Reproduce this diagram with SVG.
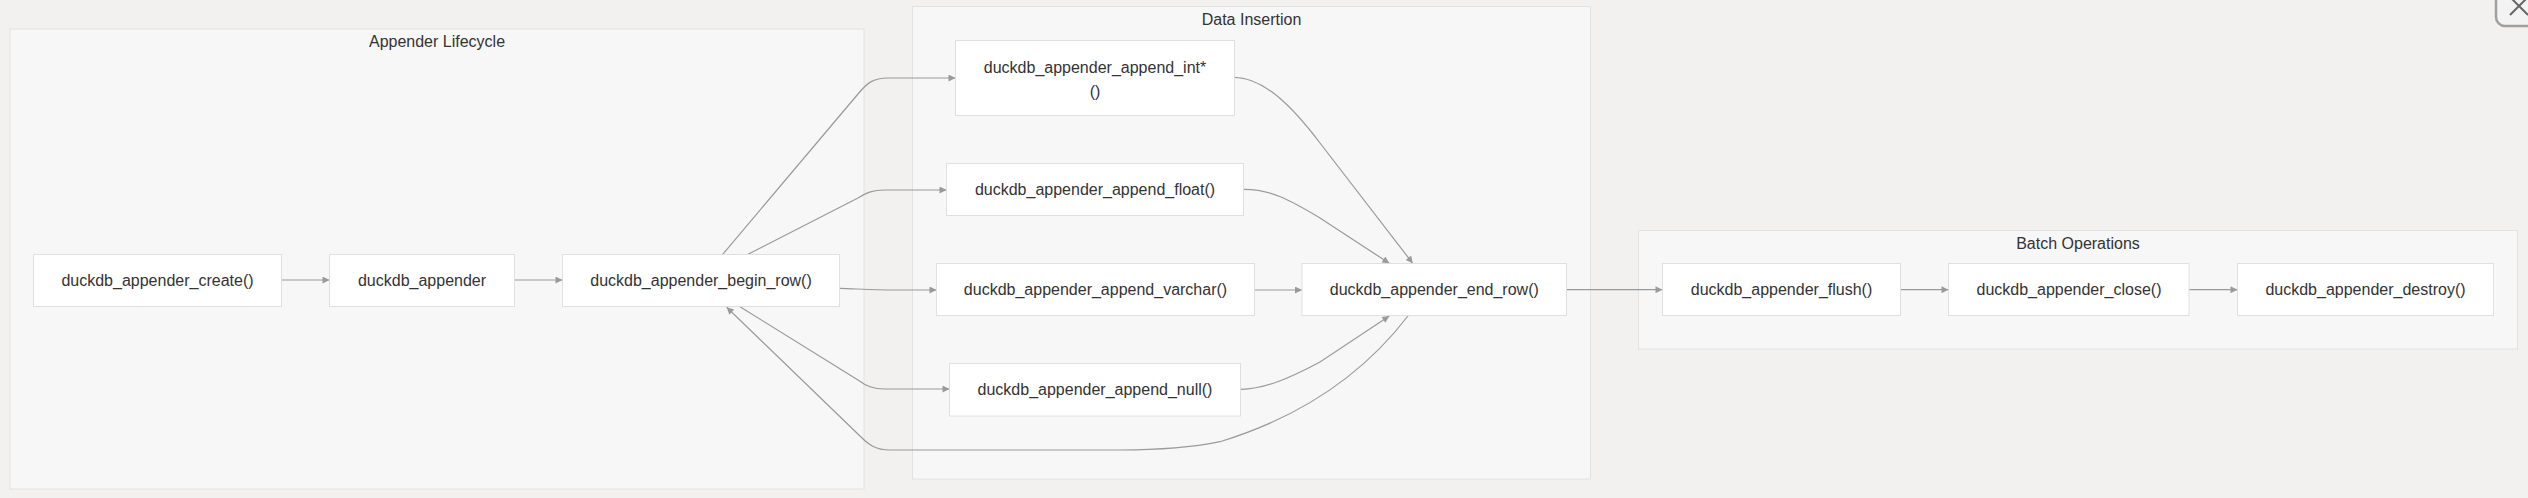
<svg xmlns="http://www.w3.org/2000/svg" width="2528" height="498" viewBox="0 0 2528 498">
<defs>
<style>
.bg{fill:#f2f1f0}
.cluster rect{fill:#f7f7f7;stroke:#e2e2e2;stroke-width:1}
.ctitle{font-family:"Liberation Sans",Arial,sans-serif;font-size:16px;fill:#333;text-anchor:middle}
.node rect{fill:#ffffff;stroke:#e0e0e0;stroke-width:1}
.node text{font-family:"Liberation Sans",Arial,sans-serif;font-size:16px;fill:#333;text-anchor:middle}
.edges path{fill:none;stroke:#9a9a9a;stroke-width:1.2;marker-end:url(#arr)}
</style>
<marker id="arr" viewBox="0 0 10 10" refX="10" refY="5" markerWidth="8" markerHeight="7" markerUnits="userSpaceOnUse" orient="auto">
<path d="M0,0 L10,5 L0,10 z" fill="#9a9a9a"/>
</marker>
</defs>
<rect class="bg" x="0" y="0" width="2528" height="498"/>

<g id="cluster-lifecycle" class="cluster">
<rect x="10" y="29" width="854" height="460"/>
<text class="ctitle" x="437" y="46.5">Appender Lifecycle</text>
</g>
<g id="cluster-insertion" class="cluster">
<rect x="912.5" y="6.5" width="678" height="472.5"/>
<text class="ctitle" x="1251.5" y="24.5">Data Insertion</text>
</g>
<g id="cluster-batch" class="cluster">
<rect x="1638.5" y="230.5" width="879" height="118.5"/>
<text class="ctitle" x="2078" y="248.5">Batch Operations</text>
</g>

<g id="edges" class="edges">
<path d="M281.5,280 L329.5,280"/>
<path d="M514.5,280 L562.5,280"/>
<path d="M722.7,254.3 L858,94 C867,83 873,78 888,78 L955.5,78"/>
<path d="M748,254.3 L858,198 C866,193 872,190 885,190 L946.5,190"/>
<path d="M839.6,288.3 C860,289 875,290 895,290 L936.5,290"/>
<path d="M740,306.7 L858,380 C866,386 873,389 885,389 L949.5,389"/>
<path d="M1408.3,315.5 Q1340,405 1220,441.7 Q1180,450 1120,450 L890,450 C876,450 869,445 861,437 L726.7,307.3"/>
<path d="M1234,77.3 C1265,77.3 1295,110 1320,143 L1412.7,263.3"/>
<path d="M1243.3,189.3 C1270,189 1290,200 1320,218 L1389.3,263.3"/>
<path d="M1254.3,290 L1302,290"/>
<path d="M1240.7,389.3 C1265,389 1290,378 1320,362 L1389.3,316"/>
<path d="M1566.4,289.7 L1662.5,289.7"/>
<path d="M1900.8,289.7 L1948.5,289.7"/>
<path d="M2189.2,289.7 L2237.5,289.7"/>
</g>

<g id="node-create" class="node">
<rect x="33.5" y="254.5" width="248" height="52"/>
<text x="157.5" y="286">duckdb_appender_create()</text>
</g>
<g id="node-appender" class="node">
<rect x="329.5" y="254.5" width="185" height="52"/>
<text x="422" y="286">duckdb_appender</text>
</g>
<g id="node-begin-row" class="node">
<rect x="562.5" y="254.5" width="277" height="52"/>
<text x="701" y="286">duckdb_appender_begin_row()</text>
</g>
<g id="node-append-int" class="node">
<rect x="955.5" y="40.5" width="279" height="75"/>
<text x="1095" y="73">duckdb_appender_append_int*</text>
<text x="1095" y="97">()</text>
</g>
<g id="node-append-float" class="node">
<rect x="946.5" y="163.5" width="297" height="52"/>
<text x="1095" y="195">duckdb_appender_append_float()</text>
</g>
<g id="node-append-varchar" class="node">
<rect x="936.5" y="263.5" width="318" height="52"/>
<text x="1095.5" y="295">duckdb_appender_append_varchar()</text>
</g>
<g id="node-append-null" class="node">
<rect x="949.5" y="363.5" width="291" height="52.5"/>
<text x="1095" y="395">duckdb_appender_append_null()</text>
</g>
<g id="node-end-row" class="node">
<rect x="1302" y="263.5" width="264.5" height="52"/>
<text x="1434.3" y="295">duckdb_appender_end_row()</text>
</g>
<g id="node-flush" class="node">
<rect x="1662.5" y="263.5" width="238" height="52"/>
<text x="1781.5" y="295">duckdb_appender_flush()</text>
</g>
<g id="node-close" class="node">
<rect x="1948.5" y="263.5" width="240.5" height="52"/>
<text x="2069" y="295">duckdb_appender_close()</text>
</g>
<g id="node-destroy" class="node">
<rect x="2237.5" y="263.5" width="256" height="52"/>
<text x="2365.5" y="295">duckdb_appender_destroy()</text>
</g>

<g id="close-button">
<rect x="2496" y="-24" width="56" height="50" rx="9" fill="#f3f3f3" stroke="#a0a0a0" stroke-width="2.5"/>
<path d="M2510,15 L2528,-3 M2510,-3 L2528,15" stroke="#666" stroke-width="2" fill="none"/>
</g>
</svg>
